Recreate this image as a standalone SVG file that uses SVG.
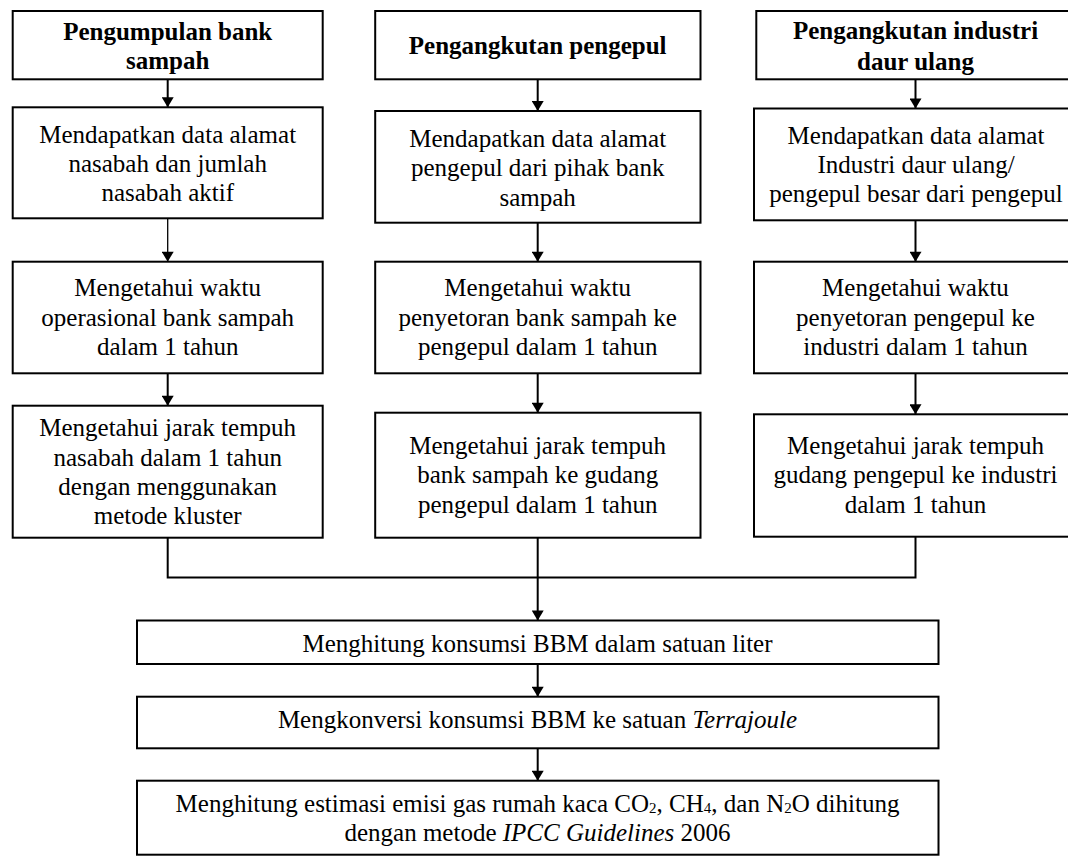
<svg xmlns="http://www.w3.org/2000/svg" width="1068" height="856" viewBox="0 0 1068 856">
  <style>
    .box { fill: #ffffff; stroke: #000000; stroke-width: 2; }
    .t { font-family: "Liberation Serif", "Times New Roman", serif; font-size: 25px; fill: #000000; text-anchor: middle; }
    .b { font-weight: bold; }
    .i { font-style: italic; }
    .sub { font-size: 15px; }
    .c { fill: none; stroke: #000000; stroke-width: 2; }
    .thin { stroke-width: 1.3; }
  </style>
  <defs>
    <marker id="ah" markerUnits="userSpaceOnUse" markerWidth="12" markerHeight="12" viewBox="0 0 10 12" refX="10" refY="6" orient="auto">
      <path d="M0,0 L10,6 L0,12 z" fill="#000000"/>
    </marker>
  </defs>
  <rect width="1068" height="856" fill="#ffffff"/>

  <g id="connectors">
    <line class="c" x1="167.7" y1="79.3" x2="167.7" y2="107.3" marker-end="url(#ah)"/>
    <line class="c thin" x1="167.7" y1="218.3" x2="167.7" y2="261.7" marker-end="url(#ah)"/>
    <line class="c" x1="167.7" y1="373.3" x2="167.7" y2="405.7" marker-end="url(#ah)"/>
    <polyline class="c" points="167.7,537.7 167.7,577.5 537.7,577.5"/>

    <line class="c" x1="537.7" y1="79.3" x2="537.7" y2="111" marker-end="url(#ah)"/>
    <line class="c" x1="537.7" y1="222.7" x2="537.7" y2="261.7" marker-end="url(#ah)"/>
    <line class="c" x1="537.7" y1="373.3" x2="537.7" y2="412.7" marker-end="url(#ah)"/>
    <line class="c" x1="537.7" y1="537.7" x2="537.7" y2="620.5" marker-end="url(#ah)"/>

    <line class="c" x1="915.5" y1="79.3" x2="915.5" y2="108.5" marker-end="url(#ah)"/>
    <line class="c" x1="915.5" y1="220.3" x2="915.5" y2="261.7" marker-end="url(#ah)"/>
    <line class="c" x1="915.5" y1="373.3" x2="915.5" y2="414.3" marker-end="url(#ah)"/>
    <polyline class="c" points="915.5,536.7 915.5,577.5 537.7,577.5"/>

    <line class="c" x1="537.7" y1="664" x2="537.7" y2="696.7" marker-end="url(#ah)"/>
    <line class="c" x1="537.7" y1="748.3" x2="537.7" y2="780.7" marker-end="url(#ah)"/>
  </g>

  <!-- Left column -->
  <g id="n-pengumpulan">
    <rect class="box" x="12.7" y="11" width="310" height="68.3"/>
    <text class="t b" x="167.7" y="39.5">Pengumpulan bank</text>
    <text class="t b" x="167.7" y="69.3">sampah</text>
  </g>
  <g id="n-l2">
    <rect class="box" x="12.7" y="107.3" width="310" height="111"/>
    <text class="t" x="167.7" y="142.7">Mendapatkan data alamat</text>
    <text class="t" x="167.7" y="171.9">nasabah dan jumlah</text>
    <text class="t" x="167.7" y="201.1">nasabah aktif</text>
  </g>
  <g id="n-l3">
    <rect class="box" x="12.7" y="261.7" width="310" height="111.6"/>
    <text class="t" x="167.7" y="296.2">Mengetahui waktu</text>
    <text class="t" x="167.7" y="325.6">operasional bank sampah</text>
    <text class="t" x="167.7" y="355">dalam 1 tahun</text>
  </g>
  <g id="n-l4">
    <rect class="box" x="12.7" y="405.7" width="310" height="132"/>
    <text class="t" x="167.7" y="436">Mengetahui jarak tempuh</text>
    <text class="t" x="167.7" y="465.5">nasabah dalam 1 tahun</text>
    <text class="t" x="167.7" y="495">dengan menggunakan</text>
    <text class="t" x="167.7" y="524.4">metode kluster</text>
  </g>

  <!-- Middle column -->
  <g id="n-pengangkutan-pengepul">
    <rect class="box" x="375.2" y="11" width="325.3" height="68.3"/>
    <text class="t b" x="537.7" y="54.3">Pengangkutan pengepul</text>
  </g>
  <g id="n-m2">
    <rect class="box" x="375.2" y="111" width="325.3" height="111.7"/>
    <text class="t" x="537.7" y="147">Mendapatkan data alamat</text>
    <text class="t" x="537.7" y="176.3">pengepul dari pihak bank</text>
    <text class="t" x="537.7" y="205.6">sampah</text>
  </g>
  <g id="n-m3">
    <rect class="box" x="375.2" y="261.7" width="325.3" height="111.6"/>
    <text class="t" x="537.7" y="296.2">Mengetahui waktu</text>
    <text class="t" x="537.7" y="325.6">penyetoran bank sampah ke</text>
    <text class="t" x="537.7" y="355">pengepul dalam 1 tahun</text>
  </g>
  <g id="n-m4">
    <rect class="box" x="375.2" y="412.7" width="325.3" height="125"/>
    <text class="t" x="537.7" y="453.6">Mengetahui jarak tempuh</text>
    <text class="t" x="537.7" y="483.1">bank sampah ke gudang</text>
    <text class="t" x="537.7" y="512.6">pengepul dalam 1 tahun</text>
  </g>

  <!-- Right column -->
  <g id="n-pengangkutan-industri">
    <rect class="box" x="756.3" y="11" width="320" height="68.3"/>
    <text class="t b" x="915.5" y="39.4">Pengangkutan industri</text>
    <text class="t b" x="915.5" y="69.6">daur ulang</text>
  </g>
  <g id="n-r2">
    <rect class="box" x="754" y="108.5" width="323" height="111.8"/>
    <text class="t" x="916" y="143.8">Mendapatkan data alamat</text>
    <text class="t" x="916" y="173.1">Industri daur ulang/</text>
    <text class="t" x="916" y="202.4">pengepul besar dari pengepul</text>
  </g>
  <g id="n-r3">
    <rect class="box" x="754" y="261.7" width="323" height="111.6"/>
    <text class="t" x="915.5" y="296.2">Mengetahui waktu</text>
    <text class="t" x="915.5" y="325.6">penyetoran pengepul ke</text>
    <text class="t" x="915.5" y="355">industri dalam 1 tahun</text>
  </g>
  <g id="n-r4">
    <rect class="box" x="754" y="414.3" width="323" height="122.4"/>
    <text class="t" x="915.5" y="453.5">Mengetahui jarak tempuh</text>
    <text class="t" x="915.5" y="483">gudang pengepul ke industri</text>
    <text class="t" x="915.5" y="512.5">dalam 1 tahun</text>
  </g>

  <!-- Bottom chain -->
  <g id="n-bbm-liter">
    <rect class="box" x="137" y="620.5" width="801.5" height="43.5"/>
    <text class="t" x="537.5" y="651.7">Menghitung konsumsi BBM dalam satuan liter</text>
  </g>
  <g id="n-terrajoule">
    <rect class="box" x="137" y="696.7" width="801.5" height="51.6"/>
    <text class="t" x="537.5" y="728.3">Mengkonversi konsumsi BBM ke satuan <tspan class="i">Terrajoule</tspan></text>
  </g>
  <g id="n-emisi">
    <rect class="box" x="137" y="780.7" width="801.5" height="74"/>
    <text class="t" x="537.5" y="811.7">Menghitung estimasi emisi gas rumah kaca CO<tspan class="sub" dy="1">2</tspan><tspan dy="-1">, CH</tspan><tspan class="sub" dy="1">4</tspan><tspan dy="-1">, dan N</tspan><tspan class="sub" dy="1">2</tspan><tspan dy="-1">O dihitung</tspan></text>
    <text class="t" x="537.5" y="840.5">dengan metode <tspan class="i">IPCC Guidelines</tspan> 2006</text>
  </g>
</svg>
